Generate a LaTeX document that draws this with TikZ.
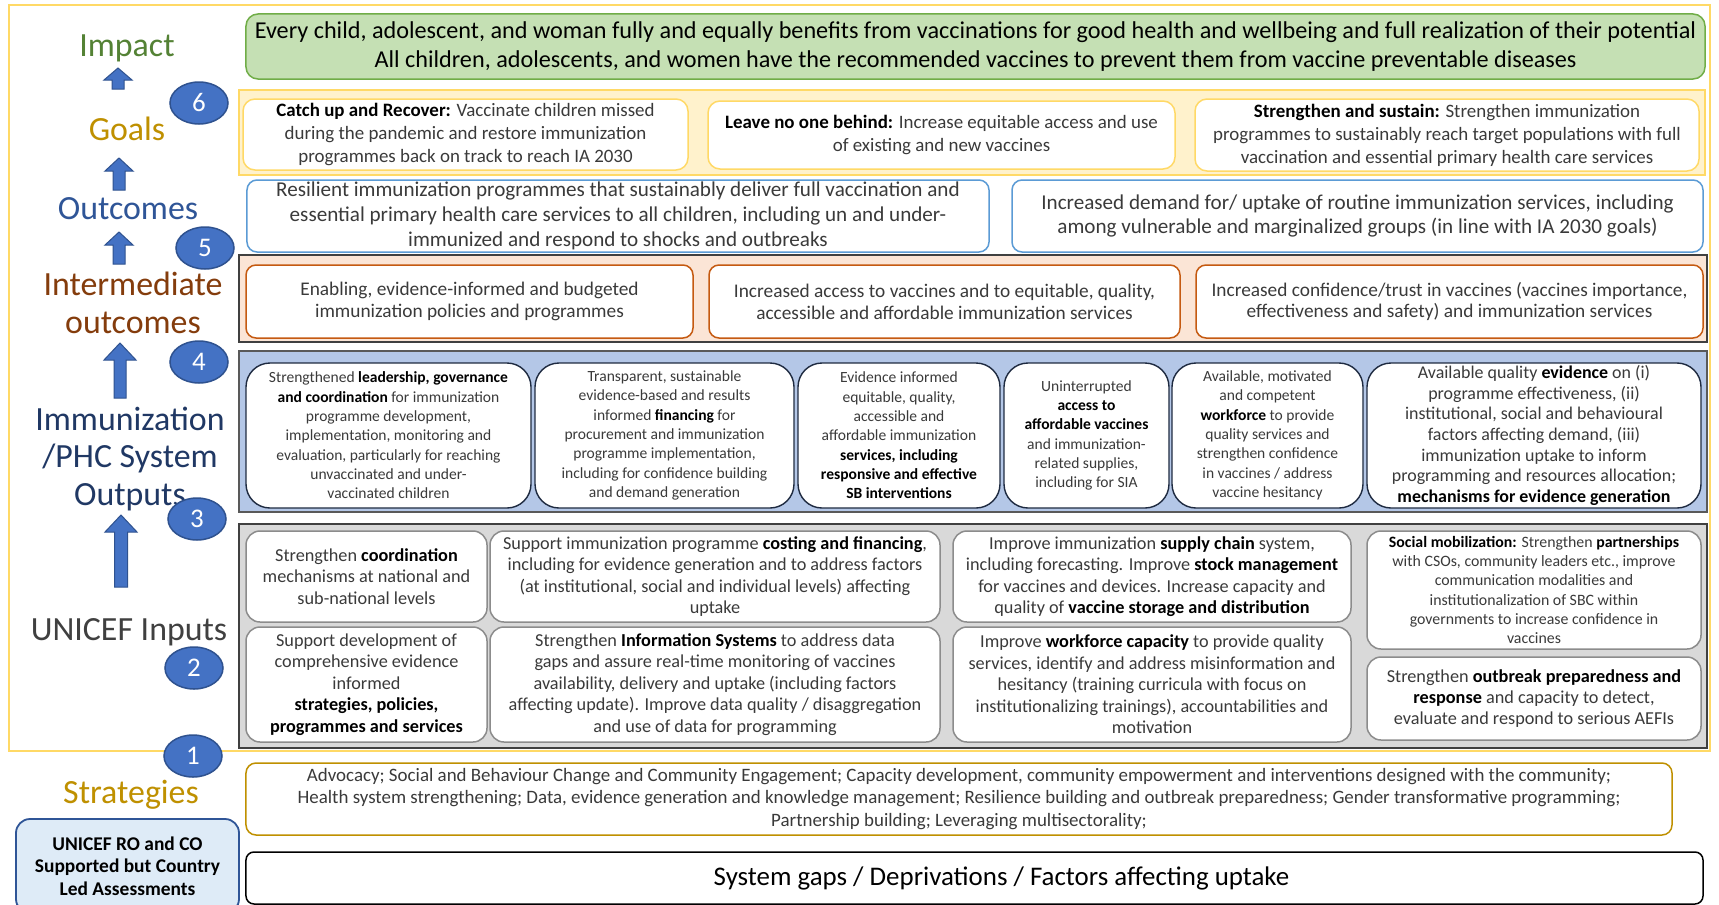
\documentclass[tikz,border=0pt]{standalone}
\usepackage{fontspec}
\setmainfont{Carlito}
\usetikzlibrary{shapes.geometric}

\definecolor{impactfill}{HTML}{C5E0B4}
\definecolor{impactline}{HTML}{70AD47}
\definecolor{impactlabel}{HTML}{548235}
\definecolor{goalfill}{HTML}{FFF2CC}
\definecolor{goalline}{HTML}{FFD966}
\definecolor{goallabel}{HTML}{BF9000}
\definecolor{outcomeline}{HTML}{5B9BD5}
\definecolor{outcomelabel}{HTML}{2F5597}
\definecolor{interfill}{HTML}{FBE5D6}
\definecolor{interline}{HTML}{C55A11}
\definecolor{interlabel}{HTML}{843C0C}
\definecolor{outputfill}{HTML}{B4C7E7}
\definecolor{outputline}{HTML}{1E2A40}
\definecolor{outputlabel}{HTML}{203864}
\definecolor{inputfill}{HTML}{D9D9D9}
\definecolor{inputline}{HTML}{8C8C8C}
\definecolor{inputlabel}{HTML}{404040}
\definecolor{bandline}{HTML}{595959}
\definecolor{markfill}{HTML}{4472C4}
\definecolor{markline}{HTML}{2F528F}
\definecolor{bodytext}{HTML}{3A3A3A}
\definecolor{assessfill}{HTML}{DEEBF7}

\newcommand\kw[1]{\textbf{\color{black}#1}}
\newcommand\setfs[2]{\fontsize{#1}{#2}\selectfont}
% rectangle node given by its corners: style, name, x1, y1, x2, y2, text
\newcommand\putbox[7]{%
  \pgfmathsetmacro\bxc{(#3+#5)/2}\pgfmathsetmacro\byc{(#4+#6)/2}%
  \pgfmathsetmacro\bxw{#5-#3}\pgfmathsetmacro\bxh{#6-#4}%
  \node[#1, minimum width=\bxw bp, minimum height=\bxh bp] (#2) at (\bxc,\byc) {#7};}

\tikzset{
  band/.style={draw=bandline, line width=1.8bp, inner sep=0pt},
  card/.style={inner sep=0pt, align=center, fill=white, text=bodytext},
  impactbox/.style={card, draw=impactline, fill=impactfill, line width=1.5bp, rounded corners=12bp, text=black, font=\setfs{24.3}{29}},
  goalbox/.style={card, draw=goalline, line width=1.5bp, rounded corners=12bp, font=\setfs{19}{23}},
  outcomebox/.style={card, draw=outcomeline, line width=1.5bp, rounded corners=10bp, font=\setfs{21.2}{25}},
  interbox/.style={card, draw=interline, line width=1.5bp, rounded corners=10bp, font=\setfs{19.4}{22}},
  outputbox/.style={card, draw=outputline, line width=1.4bp, rounded corners=24bp, font=\setfs{15.6}{19.4}},
  inputbox/.style={card, draw=inputline, line width=1.5bp, rounded corners=14bp, font=\setfs{18.3}{21.5}},
  stratbox/.style={card, draw=goallabel, line width=1.5bp, rounded corners=10bp, font=\setfs{19}{23}},
  gapbox/.style={card, draw=black, line width=1.5bp, rounded corners=8bp, text=black, font=\setfs{27}{30}},
  assessbox/.style={card, draw=outcomelabel, fill=assessfill, line width=1.8bp, rounded corners=14bp, text=black, font=\bfseries\setfs{19.5}{22.5}},
  level/.style={align=center, font=\setfs{34}{38}},
  stepmark/.style={ellipse, draw=markline, fill=markfill, line width=1.5bp, minimum width=58bp, minimum height=42bp, inner sep=0pt, text=white, font=\setfs{27}{30}},
  blockarrow/.style={fill=markfill, draw=markline, line width=1bp, line join=miter},
}

\begin{document}
\begin{tikzpicture}[x=1bp, y=-1bp]
\useasboundingbox (0,0) rectangle (1719,904);
\fill[white] (0,0) rectangle (1719,904);

% outer frame around the results chain
\putbox{draw=goalline, line width=1.3bp, inner sep=0pt}{frame}{9}{5}{1710}{751}{}

% impact
\putbox{impactbox}{impact}{246}{14}{1705}{79}{Every child, adolescent, and woman fully and equally benefits from vaccinations for good health and wellbeing and full realization of their potential\\
All children, adolescents, and women have the recommended vaccines to prevent them from vaccine preventable diseases}

% goals
\putbox{band, draw=goalline, fill=goalfill}{goalband}{239}{90}{1705}{175}{}
\putbox{goalbox}{g1}{243}{99}{688}{170}{\kw{Catch up and Recover:} Vaccinate children missed\\ during the pandemic and restore immunization\\ programmes back on track to reach IA 2030}
\putbox{goalbox}{g2}{708}{101}{1175}{169}{\kw{Leave no one behind:} Increase equitable access and use\\ of existing and new vaccines}
\putbox{goalbox}{g3}{1195}{99}{1699}{171}{\kw{Strengthen and sustain:} Strengthen immunization\\ programmes to sustainably reach target populations with full\\ vaccination and essential primary health care services}

% outcomes
\putbox{outcomebox}{o1}{247}{180}{989}{252}{Resilient immunization programmes that sustainably deliver full vaccination and\\ essential primary health care services to all children, including un and under-\\ immunized and respond to shocks and outbreaks}
\putbox{outcomebox}{o2}{1012}{180}{1703}{252}{Increased demand for/ uptake of routine immunization services, including\\ among vulnerable and marginalized groups (in line with IA 2030 goals)}

% intermediate outcomes
\putbox{band, fill=interfill, draw=inputlabel}{interband}{239}{255}{1707}{342}{}
\putbox{interbox}{i1}{246}{265}{693}{338}{Enabling, evidence-informed and budgeted\\ immunization policies and programmes}
\putbox{interbox}{i2}{709}{265}{1180}{338}{Increased access to vaccines and to equitable, quality,\\ accessible and affordable immunization services}
\putbox{interbox}{i3}{1196}{265}{1703}{338}{Increased confidence/trust in vaccines (vaccines importance,\\ effectiveness and safety) and immunization services}

% system outputs
\putbox{band, fill=outputfill}{outband}{239}{351}{1707}{512}{}
\putbox{outputbox}{p1}{246}{363}{531}{508}{Strengthened \kw{leadership, governance}\\ \kw{and coordination} for immunization\\ programme development,\\ implementation, monitoring and\\ evaluation, particularly for reaching\\ unvaccinated and under-\\ vaccinated children}
\putbox{outputbox}{p2}{535}{363}{794}{508}{Transparent, sustainable\\ evidence-based and results\\ informed \kw{financing} for\\ procurement and immunization\\ programme implementation,\\ including for confidence building\\ and demand generation}
\putbox{outputbox}{p3}{798}{363}{1000}{508}{Evidence informed\\ equitable, quality,\\ accessible and\\ affordable immunization\\ \kw{services, including}\\ \kw{responsive and effective}\\ \kw{SB interventions}}
\putbox{outputbox}{p4}{1004}{363}{1169}{508}{Uninterrupted\\ \kw{access to}\\ \kw{affordable vaccines}\\ and immunization-\\ related supplies,\\ including for SIA}
\putbox{outputbox}{p5}{1172}{363}{1363}{508}{Available, motivated\\ and competent\\ \kw{workforce} to provide\\ quality services and\\ strengthen confidence\\ in vaccines / address\\ vaccine hesitancy}
\putbox{outputbox, font=\setfs{18}{20.7}}{p6}{1367}{363}{1701}{508}{Available quality \kw{evidence} on (i)\\ programme effectiveness, (ii)\\ institutional, social and behavioural\\ factors affecting demand, (iii)\\ immunization uptake to inform\\ programming and resources allocation;\\ \kw{mechanisms for evidence generation}}

% UNICEF inputs
\putbox{band, draw=inputlabel, fill=inputfill}{inband}{239}{524}{1707}{748}{}
\putbox{inputbox}{n11}{246}{531}{487}{622}{Strengthen \kw{coordination}\\ mechanisms at national and\\ sub-national levels}
\putbox{inputbox}{n12}{490}{531}{940}{622}{Support immunization programme \kw{costing and financing},\\ including for evidence generation and to address factors\\ (at institutional, social and individual levels) affecting\\ uptake}
\putbox{inputbox}{n13}{953}{531}{1351}{622}{Improve immunization \kw{supply chain} system,\\ including forecasting. Improve \kw{stock management}\\ for vaccines and devices. Increase capacity and\\ quality of \kw{vaccine storage and distribution}}
\putbox{inputbox, font=\setfs{15.9}{19.3}}{n14}{1367}{531}{1701}{649}{\kw{Social mobilization:} Strengthen \kw{partnerships}\\ with CSOs, community leaders etc., improve\\ communication modalities and\\ institutionalization of SBC within\\ governments to increase confidence in\\ vaccines}
\putbox{inputbox}{n21}{246}{627}{487}{742}{Support development of\\ comprehensive evidence\\ informed\\ \kw{strategies, policies,}\\ \kw{programmes and services}}
\putbox{inputbox}{n22}{490}{627}{940}{742}{Strengthen \kw{Information Systems} to address data\\ gaps and assure real-time monitoring of vaccines\\ availability, delivery and uptake (including factors\\ affecting update). Improve data quality / disaggregation\\ and use of data for programming}
\putbox{inputbox}{n23}{953}{627}{1351}{742}{Improve \kw{workforce capacity} to provide quality\\ services, identify and address misinformation and\\ hesitancy (training curricula with focus on\\ institutionalizing trainings), accountabilities and\\ motivation}
\putbox{inputbox}{n24}{1367}{657}{1701}{740}{Strengthen \kw{outbreak preparedness and}\\ \kw{response} and capacity to detect,\\ evaluate and respond to serious AEFIs}

% strategies and assessments
\putbox{stratbox}{strat}{246}{763}{1672}{835}{Advocacy; Social and Behaviour Change and Community Engagement; Capacity development, community empowerment and interventions designed with the community;\\ Health system strengthening; Data, evidence generation and knowledge management; Resilience building and outbreak preparedness; Gender transformative programming;\\ Partnership building; Leveraging multisectorality;}
\putbox{gapbox}{gaps}{246}{852}{1703}{904}{\hspace*{54bp}System gaps / Deprivations / Factors affecting uptake}
\putbox{assessbox}{assess}{16}{819}{239}{913}{UNICEF RO and CO\\ Supported but Country\\ Led Assessments}

% level labels
\node[level, text=impactlabel] (limpact) at (127,48) {Impact};
\node[level, text=goallabel] (lgoals) at (127,129) {Goals};
\node[level, text=outcomelabel] (loutcomes) at (128,209) {Outcomes};
\node[level, text=interlabel] (linter) at (133,303) {Intermediate\\ outcomes};
\node[level, text=outputlabel] (loutputs) at (130,459) {Immunization\\ /PHC System\\ Outputs};
\node[level, text=inputlabel] (linputs) at (129,632) {UNICEF Inputs};
\node[level, text=goallabel] (lstrat) at (131,795) {Strategies};

% upward block arrows between the levels
\foreach \x/\yt/\yb/\hw/\sw/\hl in {118/68/89/14/6/12, 119/158/190/14/6/13, 119/232/264/14/6/13, 120/343/398/16/6/17, 121/515/587/16/6.5/17}{
  \filldraw[blockarrow] (\x-\sw,\yb) -- (\x-\sw,\yt+\hl) -- (\x-\hw,\yt+\hl) -- (\x,\yt) -- (\x+\hw,\yt+\hl) -- (\x+\sw,\yt+\hl) -- (\x+\sw,\yb) -- cycle;
}

% numbered steps
\node[stepmark] (s6) at (199,103) {6};
\node[stepmark] (s5) at (205,248) {5};
\node[stepmark] (s4) at (199,362) {4};
\node[stepmark] (s3) at (197,519) {3};
\node[stepmark] (s2) at (194,668) {2};
\node[stepmark] (s1) at (193,756) {1};
\end{tikzpicture}
\end{document}
